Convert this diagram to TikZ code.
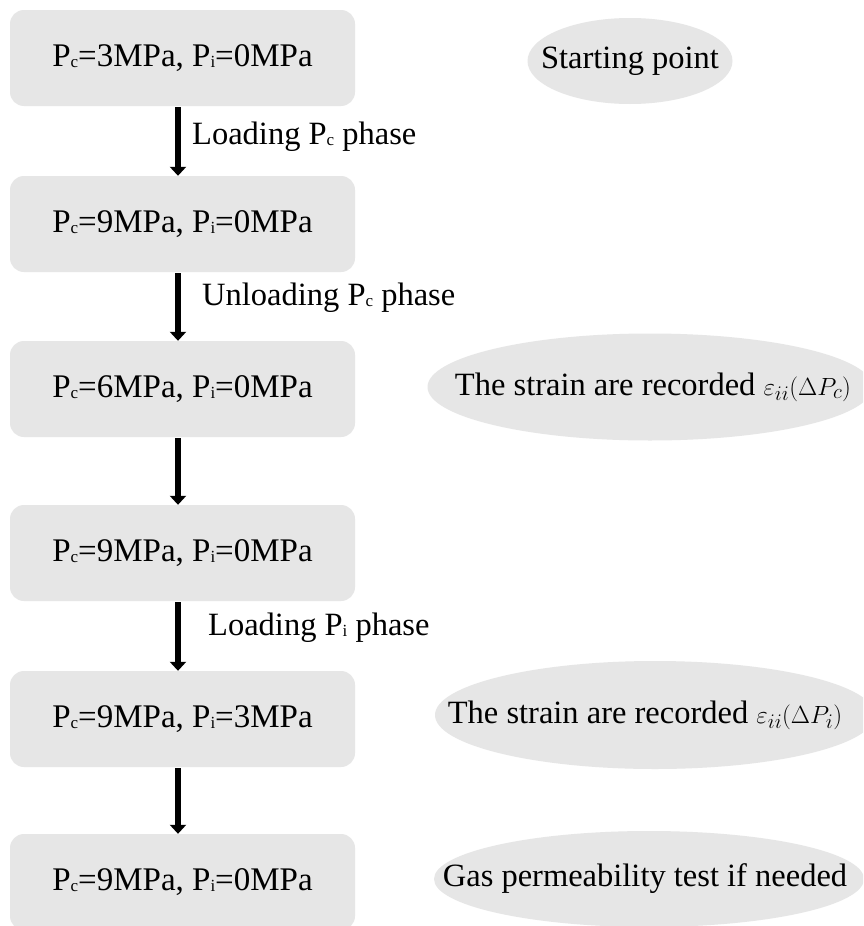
\documentclass[tikz,border=0pt]{standalone}
\usepackage{fontspec}
\setmainfont{Liberation Serif}
\usetikzlibrary{arrows.meta, positioning, shapes.geometric}

\definecolor{boxgray}{HTML}{E6E6E6}
\newcommand{\lsub}[1]{{\fontsize{17}{17}\selectfont\raisebox{-1pt}{#1}}}

\begin{document}
\begin{tikzpicture}[
    x=1pt, y=-1pt,
    stage/.style = {rectangle, rounded corners=14pt, fill=boxgray,
                    minimum width=345pt, minimum height=96pt, inner sep=0pt,
                    font=\fontsize{33}{35}\selectfont},
    note/.style  = {ellipse, fill=boxgray, inner sep=0pt},
    notetxt/.style = {inner sep=0pt, font=\fontsize{32.5}{34}\selectfont},
    flow/.style  = {line width=6.5pt, -{Triangle[length=9pt, width=16pt]}},
    lbl/.style   = {anchor=west, inner sep=0pt, font=\fontsize{32.5}{34}\selectfont},
]
\clip (0,0) rectangle (863,926);
\fill[white] (0,0) rectangle (863,926);

%% ---- Stages (left column) ----
\node[stage] (S1) at (182.5, 58)  {P\lsub{c}=3MPa, P\lsub{i}=0MPa\hspace{14pt}};
\node[stage] (S2) at (182.5, 224) {P\lsub{c}=9MPa, P\lsub{i}=0MPa\hspace{14pt}};
\node[stage] (S3) at (182.5, 389) {P\lsub{c}=6MPa, P\lsub{i}=0MPa\hspace{14pt}};
\node[stage] (S4) at (182.5, 553) {P\lsub{c}=9MPa, P\lsub{i}=0MPa\hspace{14pt}};
\node[stage] (S5) at (182.5, 719) {P\lsub{c}=9MPa, P\lsub{i}=3MPa\hspace{14pt}};
\node[stage] (S6) at (182.5, 882) {P\lsub{c}=9MPa, P\lsub{i}=0MPa\hspace{14pt}};

%% ---- Notes (right column) ----
\node[note, minimum width=205pt, minimum height=86pt,
      label={[notetxt]center:Starting point}] (N1) at (630, 61) {};
\node[note, minimum width=445pt, minimum height=107pt,
      label={[notetxt, xshift=3pt]center:The strain are recorded $\varepsilon_{ii}(\Delta P_c)$}] (N2) at (650, 387) {};
\node[note, minimum width=440pt, minimum height=108pt,
      label={[notetxt, xshift=-10pt]center:The strain are recorded $\varepsilon_{ii}(\Delta P_i)$}] (N3) at (655, 715) {};
\node[note, minimum width=430pt, minimum height=96pt,
      label={[notetxt, xshift=-4pt]center:Gas permeability test if needed}] (N4) at (649, 879) {};

%% ---- Arrows between stages ----
\foreach \a/\b in {S1/S2, S2/S3, S3/S4, S4/S5, S5/S6}{
    \draw[flow] ([xshift=-4.5pt, yshift=-1pt]\a.south) -- ([xshift=-4.5pt]\b.north);
}

%% ---- Phase labels ----
\node[lbl] (L1) at (192, 137) {Loading P\lsub{c} phase};
\node[lbl] (L2) at (202, 298) {Unloading P\lsub{c} phase};
\node[lbl] (L3) at (208, 628) {Loading P\lsub{i} phase};

\end{tikzpicture}
\end{document}
